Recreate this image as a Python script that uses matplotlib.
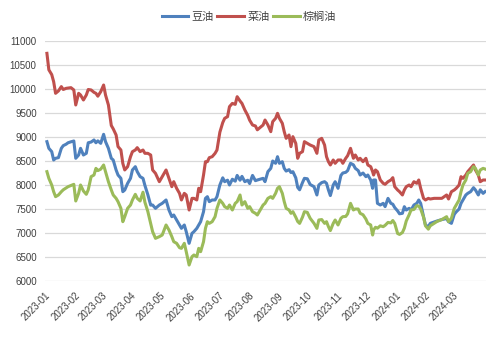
import numpy as np
import pandas as pd
import matplotlib
matplotlib.use('Agg')
import matplotlib.pyplot as plt
import matplotlib.dates as mdates

plt.rcParams['font.family'] = ['Liberation Sans', 'Noto Sans CJK SC']

# Daily price series (yuan/ton), sampled roughly every 2-3 days
start = pd.Timestamp('2023-01-01')
day_offset = [
    2, 4, 7, 9, 11, 14, 17, 19, 22, 24, 27, 30, 32, 35, 37, 40, 43, 45, 48, 51, 53, 55,
    58, 61, 63, 66, 69, 71, 74, 76, 79, 81, 83, 86, 89, 91, 94, 96, 99, 102, 104, 107, 110,
    112, 115, 119, 122, 126, 129, 132, 134, 137, 140, 142, 145, 147, 150, 153, 155, 158,
    160, 162, 165, 167, 169, 171, 174, 177, 179, 182, 185, 187, 190, 192, 195, 198, 200,
    203, 205, 208, 211, 213, 216, 219, 221,
    227, 229, 232, 235, 237, 240, 242, 244, 247, 249, 251, 254, 256, 258, 261, 263, 265,
    268, 270, 273, 276, 280, 283, 285, 288, 291, 293, 295, 297, 300, 302, 305, 308, 310,
    313, 315, 318, 321, 323, 326, 328, 331, 334, 336,
    339, 341, 342, 344, 346, 349, 352, 354, 357, 360, 362, 364, 367, 369, 372, 374, 376,
    379, 381, 384, 387, 389, 391, 394, 396, 399, 401, 405, 408, 413, 418, 420, 423, 426,
    428, 431, 433, 435, 438, 440, 443, 446, 448, 451, 453, 456, 458,
]

soybean = [
    8903, 8764, 8695, 8521, 8556, 8570, 8764, 8820, 8850, 8880, 8900, 8917, 8556, 8625,
    8764, 8625, 8660, 8880, 8895, 8938, 8880, 8920, 8868, 9056, 8903, 8764, 8556, 8521,
    8313, 8208, 8139, 7861, 7896, 8035, 8139, 8313, 8382, 8278, 8174, 8139, 7990, 7800, 7580,
    7583, 7514, 7583, 7618, 7688, 7479, 7340, 7375, 7271, 7167, 7097, 7167, 7028, 6785,
    6993, 7028, 7097, 7167, 7236, 7444, 7722, 7757, 7653, 7688, 7688, 7757, 8000, 8150,
    8069, 8100, 8000, 8120, 8080, 8200, 8100, 8180, 8069, 8100, 8030, 8200, 8090, 8104,
    8139, 8069, 8278, 8347, 8500, 8452, 8590, 8452, 8486, 8347, 8290, 8320, 8260, 8278,
    8150, 7950, 7900, 8050, 8139, 8130, 8010, 7965, 7792, 8000, 8050, 8069, 8035, 7896,
    7780, 8000, 8069, 7931, 8200, 8250, 8264, 8300, 8452, 8420, 8347, 8300, 8208, 8250,
    8174, 8208,
    8104, 7931, 8104, 8104, 7618, 7583, 7618, 7549, 7722, 7618, 7600, 7530, 7460, 7400,
    7410, 7549, 7479, 7514, 7479, 7583, 7618, 7688, 7618, 7340, 7167, 7132, 7201, 7230,
    7250, 7280, 7300, 7236, 7201, 7390, 7440, 7500, 7618, 7688, 7792, 7826, 7861, 7944,
    7896, 7792, 7900, 7826, 7861,
]

rapeseed = [
    10743, 10400, 10300, 10153, 9910, 9960, 10050, 9990, 10014, 10020, 10028, 9980, 9667,
    9910, 9875, 9771, 9875, 9990, 9980, 9930, 9910, 9850, 9944, 10083, 9875, 9667, 9240,
    9170, 9042, 8800, 8729, 8450, 8313, 8382, 8590, 8695, 8729, 8778, 8695, 8729, 8660,
    8660, 8625,
    8313, 8243, 8069, 8174, 8313, 8139, 7965, 8069, 7931, 7826, 7688, 7826, 7792, 7479,
    7722, 7722, 7688, 7931, 7861, 8208, 8486, 8486, 8569, 8590, 8660, 8729, 9100, 9300,
    9389, 9424, 9632, 9700, 9680, 9840, 9750, 9700, 9563, 9450, 9350, 9250, 9230, 9150,
    9250, 9354, 9250, 9111, 9320, 9389, 9493, 9389, 9285, 9111, 8972, 9042, 8799, 9007,
    8868, 8556, 8660, 8695, 8903, 8868, 8833, 8799, 8660, 8938, 8972, 8833, 8590, 8486,
    8417, 8521, 8452, 8521, 8521, 8452, 8556, 8611, 8764, 8556, 8625, 8521, 8556, 8486,
    8556, 8417,
    8382, 8278, 8208, 8313, 8278, 8104, 8035, 8014, 8069, 8104, 8153, 7965, 7896, 7861,
    7792, 7896, 7965, 8000, 7965, 8069, 8035, 8104, 7931, 7722, 7688, 7722, 7708, 7722,
    7722, 7722, 7792, 7708, 7861, 7896, 7931, 8000, 8174, 8139, 8208, 8278, 8347, 8417,
    8313, 8208, 8069, 8104, 8104,
]

palm = [
    8278, 8139, 8000, 7861, 7757, 7792, 7861, 7900, 7940, 7965, 7990, 8014, 7667, 7826,
    8000, 7875, 7806, 7900, 8174, 8208, 8347, 8300, 8330, 8417, 8278, 8069, 7896, 7792,
    7722, 7653, 7514, 7236, 7340, 7514, 7583, 7688, 7806, 7722, 7667, 7850, 7640, 7450, 7200,
    7028, 6889, 6924, 6958, 7167, 7063, 6924, 6819, 6785, 6694, 6680, 6785, 6611, 6333,
    6507, 6542, 6507, 6680, 6611, 6819, 7097, 7236, 7201, 7236, 7340, 7514, 7688, 7618,
    7549, 7514, 7583, 7479, 7618, 7653, 7792, 7583, 7653, 7514, 7549, 7444, 7410, 7375,
    7583, 7618, 7722, 7757, 7722, 7826, 7931, 7965, 7826, 7653, 7514, 7479, 7410, 7444,
    7330, 7240, 7200, 7330, 7444, 7430, 7306, 7201, 7097, 7271, 7280, 7201, 7236, 7132,
    7050, 7201, 7271, 7167, 7306, 7340, 7345, 7400, 7618, 7480, 7500, 7500, 7410, 7380,
    7290, 7200,
    7167, 6958, 7063, 7120, 7100, 7150, 7132, 7160, 7220, 7210, 7260, 7200, 6990, 6970,
    7010, 7100, 7250, 7380, 7480, 7490, 7570, 7560, 7500, 7330, 7150, 7080, 7150, 7200,
    7240, 7280, 7340, 7236, 7306, 7514, 7583, 7688, 7861, 8000, 8104, 8243, 8278, 8382,
    8347, 8208, 8313, 8347, 8333,
]

series_names = ['豆油', '菜油', '棕榈油']
series_colors = ['#4F81BD', '#C0504D', '#9BBB59']
month_ticks = pd.date_range('2023-01-01', '2024-03-01', freq='MS')

dates = start + pd.to_timedelta(day_offset, unit='D')

fig = plt.figure(figsize=(4.99, 3.38), dpi=100)
ax = fig.add_axes([45 / 499, 57 / 338, 441 / 499, 240 / 338])

lines = []
for vals, name, color in zip([soybean, rapeseed, palm], series_names, series_colors):
    ln, = ax.plot(dates, vals, color=color, linewidth=2.2, label=name,
                  solid_joinstyle='round')
    lines.append(ln)

ax.set_ylim(6000, 11000)
ax.set_yticks(np.arange(6000, 11001, 500))
ax.set_xlim(start, dates[-1] + pd.Timedelta(days=1))
ax.set_xticks(month_ticks)
ax.xaxis.set_major_formatter(mdates.DateFormatter('%Y-%m'))

ax.grid(axis='y', color='#d9d9d9', linewidth=0.9)
ax.set_axisbelow(True)
for sp in ax.spines.values():
    sp.set_visible(False)

ax.tick_params(axis='y', length=0, pad=6, labelsize=7, labelcolor='#404040')
ax.tick_params(axis='x', length=0, pad=7, labelsize=7, labelcolor='#404040')
for lbl in ax.get_xticklabels():
    lbl.set_rotation(45)
    lbl.set_ha('right')
    lbl.set_rotation_mode('anchor')

fig.legend(handles=lines, labels=series_names, loc='center',
           bbox_to_anchor=(249 / 499, 1 - 17 / 338), ncol=3, frameon=False,
           prop={'family': 'Noto Sans CJK SC', 'size': 8},
           handlelength=2.4, handletextpad=0.3, columnspacing=0.3,
           labelcolor='#404040')

fig.savefig('out.png', dpi=100)
